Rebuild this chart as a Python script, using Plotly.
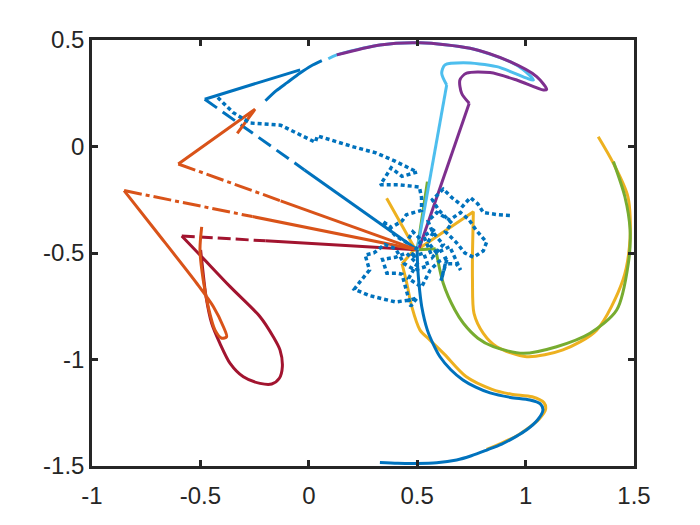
import plotly.graph_objects as go

# ---------------- data ----------------
x_ticks = [-1, -0.5, 0, 0.5, 1, 1.5]
x_ticktext = ["-1", "-0.5", "0", "0.5", "1", "1.5"]
y_ticks = [0.5, 0, -0.5, -1, -1.5]
y_ticktext = ["0.5", "0", "-0.5", "-1", "-1.5"]

# blue (solid parts)
blue_arc_x = [-0.20, -0.15, -0.10, -0.04, 0.01, 0.06]
blue_arc_y = [0.215, 0.262, 0.300, 0.345, 0.378, 0.403]
blue_spoke_x = [-0.48, -0.04]
blue_spoke_y = [0.222, 0.360]
blue_in_x = [-0.02, 0.50]
blue_in_y = [-0.110, -0.485]
blue_low_x = [0.50, 0.502, 0.508, 0.521, 0.547, 0.575, 0.605, 0.655, 0.711, 0.77, 0.836,
              0.93, 1.02, 1.068, 1.08, 1.055, 1.005, 0.955, 0.89, 0.821, 0.75, 0.682,
              0.59, 0.498, 0.41, 0.328]
blue_low_y = [-0.485, -0.56, -0.642, -0.752, -0.862, -0.93, -0.987, -1.048, -1.096, -1.13,
              -1.157, -1.178, -1.19, -1.208, -1.237, -1.284, -1.33, -1.362, -1.397, -1.425,
              -1.452, -1.472, -1.485, -1.488, -1.487, -1.483]
# blue dashed part
blue_dash_x = [-0.48, -0.02]
blue_dash_y = [0.222, -0.110]

# orange
orange_hook_x = [-0.33, -0.248, -0.602]
orange_hook_y = [0.062, 0.175, -0.082]
orange_in1_x = [-0.13, 0.50]
orange_in1_y = [-0.255, -0.485]
orange_in2_x = [-0.26, 0.50]
orange_in2_y = [-0.329, -0.485]
orange_loop_x = [-0.852, -0.709, -0.517, -0.440, -0.394, -0.379, -0.402, -0.433,
                 -0.464, -0.487, -0.502, -0.494]
orange_loop_y = [-0.207, -0.392, -0.642, -0.752, -0.846, -0.893, -0.900, -0.861,
                 -0.752, -0.627, -0.486, -0.377]
orange_dd1_x = [-0.602, -0.13]
orange_dd1_y = [-0.082, -0.255]
orange_dd2_x = [-0.852, -0.26]
orange_dd2_y = [-0.207, -0.329]

# dark red
red_in_x = [-0.20, 0.50]
red_in_y = [-0.443, -0.485]
red_loop_x = [-0.586, -0.502, -0.363, -0.225, -0.164, -0.133, -0.122, -0.136, -0.171,
              -0.225, -0.302, -0.363, -0.410, -0.448, -0.474, -0.489, -0.499]
red_loop_y = [-0.420, -0.509, -0.658, -0.799, -0.893, -0.955, -1.034, -1.088, -1.115,
              -1.112, -1.081, -1.018, -0.924, -0.830, -0.705, -0.580, -0.486]
red_dash_x = [-0.586, -0.20]
red_dash_y = [-0.420, -0.443]

# yellow
yellow_spike_x = [0.359, 0.49, 0.43]
yellow_spike_y = [-0.243, -0.48, -0.55]
yellow_low_x = [0.43, 0.452, 0.475, 0.513, 0.56, 0.625, 0.725, 0.845, 0.935, 1.03,
                1.085, 1.092, 1.062, 1.008, 0.96, 0.89, 0.82]
yellow_low_y = [-0.55, -0.642, -0.752, -0.862, -0.91, -0.975, -1.08, -1.14, -1.163,
                -1.175, -1.203, -1.235, -1.28, -1.325, -1.358, -1.392, -1.422]
yellow_jump_x = [0.50, 0.759, 0.755]
yellow_jump_y = [-0.485, -0.306, -0.50]
yellow_right_x = [0.755, 0.755, 0.762, 0.805, 0.867, 1.005, 1.172, 1.328, 1.449,
                  1.482, 1.472, 1.405, 1.335]
yellow_right_y = [-0.50, -0.627, -0.783, -0.877, -0.940, -0.987, -0.955, -0.862,
                  -0.627, -0.43, -0.236, -0.079, 0.046]

# green
green_spoke_x = [0.547, 0.50, 0.585]
green_spoke_y = [-0.165, -0.485, -0.48]
green_x = [0.585, 0.620, 0.674, 0.713, 0.78, 0.851, 0.989, 1.143, 1.297,
           1.420, 1.474, 1.482, 1.458, 1.405]
green_y = [-0.48, -0.642, -0.768, -0.830, -0.90, -0.940, -0.971, -0.940,
           -0.877, -0.768, -0.548, -0.392, -0.236, -0.071]

# light blue
lblue_spoke_x = [0.50, 0.636]
lblue_spoke_y = [-0.485, 0.289]
lblue_x = [0.636, 0.613, 0.628, 0.713, 0.867, 1.036, 0.99, 0.928, 0.744, 0.513,
           0.328, 0.129, 0.09]
lblue_y = [0.289, 0.344, 0.383, 0.393, 0.375, 0.312, 0.36, 0.398, 0.461, 0.487,
           0.477, 0.430, 0.412]

# purple
purple_spoke_x = [0.51, 0.740]
purple_spoke_y = [-0.475, 0.203]
purple_x = [0.740, 0.705, 0.697, 0.728, 0.836, 0.959, 1.082, 1.097, 1.051, 0.928,
            0.744, 0.513, 0.328, 0.129]
purple_y = [0.203, 0.25, 0.312, 0.344, 0.347, 0.312, 0.265, 0.268, 0.328, 0.398,
            0.461, 0.487, 0.477, 0.430]

# blue dotted random walk
walk_x = [-0.42, -0.35, -0.27, -0.13, -0.03, 0.03, 0.04, 0.10, 0.20, 0.31, 0.40, 0.50,
          0.43, 0.38, 0.33, 0.42, 0.51, 0.52, 0.52, 0.45, 0.43, 0.38, 0.34, 0.40, 0.45,
          0.48, 0.52, 0.47, 0.53, 0.55, 0.49, 0.44, 0.40,
          0.35, 0.30, 0.26, 0.28, 0.24, 0.21, 0.28, 0.40, 0.47, 0.50, 0.47, 0.45,
          0.43, 0.41, 0.36, 0.34, 0.40, 0.45, 0.50, 0.46, 0.52, 0.56, 0.60, 0.64, 0.61,
          0.63, 0.68, 0.70, 0.65, 0.59, 0.55, 0.58, 0.53, 0.57, 0.62, 0.57, 0.55,
          0.59, 0.65, 0.70, 0.74, 0.77, 0.82, 0.805, 0.76, 0.72, 0.68, 0.63, 0.66,
          0.60, 0.57, 0.62, 0.66, 0.71, 0.745, 0.78, 0.805, 0.87, 0.94]
walk_y = [0.23, 0.16, 0.11, 0.10, 0.05, 0.02, 0.05, 0.03, 0.00, -0.03, -0.07, -0.12,
          -0.14, -0.10, -0.18, -0.18, -0.19, -0.24, -0.30, -0.32, -0.35, -0.38, -0.35,
          -0.42, -0.45, -0.40, -0.44, -0.52, -0.50, -0.56, -0.58, -0.55, -0.48,
          -0.46, -0.50, -0.51, -0.58, -0.63, -0.67, -0.70, -0.73, -0.72, -0.71,
          -0.75, -0.68, -0.60, -0.595, -0.595, -0.53, -0.52, -0.50, -0.55, -0.62, -0.66,
          -0.58, -0.54, -0.52, -0.63, -0.55, -0.55, -0.58, -0.47, -0.50, -0.45, -0.39,
          -0.42, -0.52, -0.46, -0.40, -0.35, -0.31, -0.345, -0.31, -0.345, -0.39, -0.45,
          -0.49, -0.52, -0.50, -0.45, -0.40, -0.36, -0.30, -0.25, -0.20, -0.24, -0.28,
          -0.24, -0.27, -0.31, -0.32, -0.325]


def join(*segs):
    xs, ys = [], []
    for i, (sx, sy) in enumerate(segs):
        if i:
            xs.append(None)
            ys.append(None)
        xs.extend(sx)
        ys.extend(sy)
    return xs, ys


BLUE = "#0072BD"
ORANGE = "#D95319"
YELLOW = "#EDB120"
PURPLE = "#7E2F8E"
GREEN = "#77AC30"
LBLUE = "#4DBEEE"
RED = "#A2142F"
W = 3

fig = go.Figure()


def add(xs, ys, color, dash="solid", shape="linear", width=W):
    line = dict(color=color, width=width, dash=dash, shape=shape)
    if shape == "spline":
        line["smoothing"] = 0.8
    fig.add_trace(go.Scatter(x=xs, y=ys, mode="lines", line=line,
                             hoverinfo="skip", showlegend=False))


yx, yy = join((yellow_spike_x, yellow_spike_y), (yellow_jump_x, yellow_jump_y))
add(yx, yy, YELLOW)
yx, yy = join((yellow_low_x, yellow_low_y), (yellow_right_x, yellow_right_y))
add(yx, yy, YELLOW, shape="spline")
add(green_spoke_x, green_spoke_y, GREEN)
add(green_x, green_y, GREEN, shape="spline")
bx, by = join((blue_spoke_x, blue_spoke_y), (blue_in_x, blue_in_y))
add(bx, by, BLUE)
bx, by = join((blue_arc_x, blue_arc_y), (blue_low_x, blue_low_y))
add(bx, by, BLUE, shape="spline")
add(blue_dash_x, blue_dash_y, BLUE, "15px,7px")
add(red_in_x, red_in_y, RED)
add(red_loop_x, red_loop_y, RED, shape="spline")
add(red_dash_x, red_dash_y, RED, "13px,5px")
ox, oy = join((orange_hook_x, orange_hook_y), (orange_in1_x, orange_in1_y),
              (orange_in2_x, orange_in2_y))
add(ox, oy, ORANGE)
add(orange_loop_x, orange_loop_y, ORANGE, shape="spline")
odx, ody = join((orange_dd1_x, orange_dd1_y), (orange_dd2_x, orange_dd2_y))
add(odx, ody, ORANGE, "18px,4px,4px,4px")
add(lblue_spoke_x, lblue_spoke_y, LBLUE)
add(lblue_x, lblue_y, LBLUE, shape="spline")
add(purple_spoke_x, purple_spoke_y, PURPLE)
add(purple_x, purple_y, PURPLE, shape="spline")
add(walk_x, walk_y, BLUE, "4px,3px", width=3.5)

axis_common = dict(showgrid=False, zeroline=False, showline=True, mirror="ticks",
                   linecolor="#262626", linewidth=2.5, ticks="inside", ticklen=6,
                   tickwidth=2.5, tickcolor="#262626",
                   tickfont=dict(family="Liberation Sans, Arial, sans-serif",
                                 size=24, color="#262626"))

fig.update_layout(
    width=700, height=525,
    margin=dict(l=84, r=74, t=32, b=67),
    paper_bgcolor="white", plot_bgcolor="white",
    xaxis=dict(range=[-1, 1.5], tickvals=x_ticks, ticktext=x_ticktext,
               ticklabelstandoff=6, **axis_common),
    yaxis=dict(range=[-1.5, 0.5], tickvals=y_ticks, ticktext=y_ticktext,
               **axis_common),
)

fig.write_html("out.html")
